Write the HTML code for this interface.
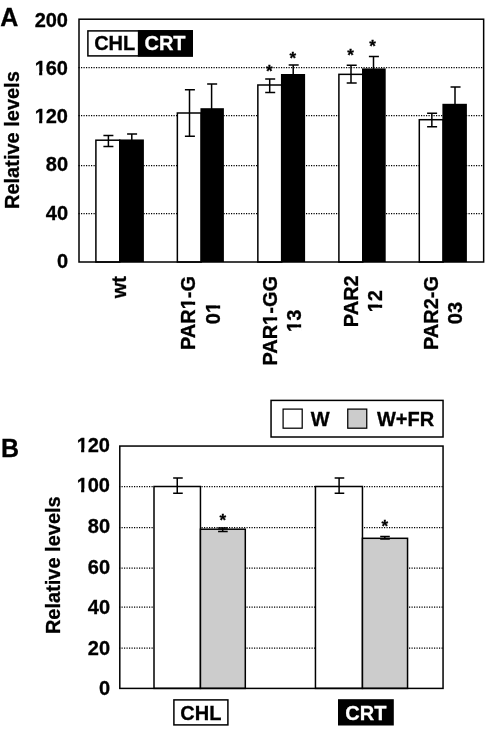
<!DOCTYPE html>
<html><head><meta charset="utf-8"><style>
html,body{margin:0;padding:0;background:#fff;width:490px;height:735px;overflow:hidden}
svg{display:block;filter:grayscale(1)}
text{font-family:"Liberation Sans",sans-serif;font-weight:bold;stroke:#000;stroke-width:0.3px}
text[fill="#fff"]{stroke:#fff}
</style></head><body>
<svg width="490" height="735" viewBox="0 0 490 735">
<rect width="490" height="735" fill="#fff"/>
<line x1="78.5" y1="213.50" x2="483.65" y2="213.50" stroke="#000" stroke-width="1.25" stroke-dasharray="1.2 1.3"/>
<line x1="78.5" y1="165.50" x2="483.65" y2="165.50" stroke="#000" stroke-width="1.25" stroke-dasharray="1.2 1.3"/>
<line x1="78.5" y1="115.50" x2="483.65" y2="115.50" stroke="#000" stroke-width="1.25" stroke-dasharray="1.2 1.3"/>
<line x1="78.5" y1="67.50" x2="483.65" y2="67.50" stroke="#000" stroke-width="1.25" stroke-dasharray="1.2 1.3"/>
<g transform="translate(68.00 267.96) scale(1 1.04)"><text id="t0" text-anchor="end" font-size="20">0</text></g>
<g transform="translate(68.00 220.16) scale(1 1.04)"><text id="t1" text-anchor="end" font-size="20">40</text></g>
<g transform="translate(68.00 171.26) scale(1 1.04)"><text id="t2" text-anchor="end" font-size="20">80</text></g>
<g transform="translate(68.00 123.36) scale(1 1.04)"><text id="t3" text-anchor="end" font-size="20">120</text><rect x="-33.10" y="-3.39" width="4.21" height="4.69" fill="#fff"/><rect x="-25.75" y="-3.39" width="3.95" height="4.69" fill="#fff"/></g>
<g transform="translate(68.00 74.56) scale(1 1.04)"><text id="t4" text-anchor="end" font-size="20">160</text><rect x="-33.10" y="-3.39" width="4.21" height="4.69" fill="#fff"/><rect x="-25.75" y="-3.39" width="3.95" height="4.69" fill="#fff"/></g>
<g transform="translate(68.00 27.06) scale(1 1.04)"><text id="t5" text-anchor="end" font-size="20">200</text></g>
<rect x="95.90" y="140.20" width="23.85" height="121.80" fill="#fff" stroke="#000" stroke-width="1.5"/>
<rect x="119.00" y="139.45" width="24.90" height="122.55" fill="#000"/>
<path d="M108.40 135.50V146.60M103.40 135.50H113.40M103.40 146.60H113.40" stroke="#000" stroke-width="1.5" fill="none"/>
<path d="M131.80 133.90V140.45M127.10 133.90H137.10" stroke="#000" stroke-width="1.5" fill="none"/>
<rect x="177.35" y="113.00" width="23.85" height="149.00" fill="#fff" stroke="#000" stroke-width="1.5"/>
<rect x="200.45" y="108.20" width="23.45" height="153.80" fill="#000"/>
<path d="M189.50 89.75V136.30M184.90 89.75H194.90M184.90 136.30H194.90" stroke="#000" stroke-width="1.5" fill="none"/>
<path d="M211.60 84.05V109.20M207.15 84.05H217.15" stroke="#000" stroke-width="1.5" fill="none"/>
<rect x="257.85" y="85.00" width="23.85" height="177.00" fill="#fff" stroke="#000" stroke-width="1.5"/>
<rect x="280.95" y="74.00" width="24.15" height="188.00" fill="#000"/>
<path d="M269.70 79.00V92.45M265.20 79.00H275.20M265.20 92.45H275.20" stroke="#000" stroke-width="1.5" fill="none"/>
<path d="M293.20 65.10V75.00M288.70 65.10H298.70" stroke="#000" stroke-width="1.5" fill="none"/>
<rect x="338.90" y="74.35" width="23.85" height="187.65" fill="#fff" stroke="#000" stroke-width="1.5"/>
<rect x="362.00" y="68.40" width="23.70" height="193.60" fill="#000"/>
<path d="M351.00 65.15V82.90M346.70 65.15H356.70M346.70 82.90H356.70" stroke="#000" stroke-width="1.5" fill="none"/>
<path d="M373.50 56.55V69.40M368.90 56.55H378.90" stroke="#000" stroke-width="1.5" fill="none"/>
<rect x="419.30" y="119.70" width="23.85" height="142.30" fill="#fff" stroke="#000" stroke-width="1.5"/>
<rect x="442.40" y="103.80" width="24.50" height="158.20" fill="#000"/>
<path d="M431.85 113.30V126.85M427.10 113.30H437.10M427.10 126.85H437.10" stroke="#000" stroke-width="1.5" fill="none"/>
<path d="M455.00 86.90V104.80M450.55 86.90H460.55" stroke="#000" stroke-width="1.5" fill="none"/>
<rect x="79.0" y="19.2" width="404.65" height="242.80" fill="none" stroke="#000" stroke-width="1.5"/>
<g transform="translate(269.30 77.44)"><text id="t6" text-anchor="middle" font-size="17">*</text></g>
<g transform="translate(292.70 63.64)"><text id="t7" text-anchor="middle" font-size="17">*</text></g>
<g transform="translate(350.50 61.39)"><text id="t8" text-anchor="middle" font-size="17">*</text></g>
<g transform="translate(372.65 52.39)"><text id="t9" text-anchor="middle" font-size="17">*</text></g>
<rect x="87.9" y="30.9" width="104.3" height="25" fill="#fff" stroke="#000" stroke-width="1.5"/>
<rect x="138.6" y="30.9" width="53.65" height="25" fill="#000" stroke="#000" stroke-width="1.5"/>
<g transform="translate(114.70 50.10) scale(1 1.04)"><text id="t10" text-anchor="middle" font-size="20">CHL</text></g>
<g transform="translate(165.00 50.10) scale(1 1.04)"><text id="t11" text-anchor="middle" font-size="20" fill="#fff">CRT</text></g>
<g transform="translate(0.30 26.00) scale(1 1.04)"><text id="t12" font-size="25">A</text></g>
<g transform="translate(18.70 140.10) rotate(-90) scale(1 1.04)"><text id="t13" text-anchor="middle" font-size="20">Relative levels</text></g>
<g transform="translate(126.10 287.11) rotate(-90) scale(1 1.04)"><text id="t14" text-anchor="middle" font-size="20">wt</text></g>
<g transform="translate(195.45 313.04) rotate(-90) scale(1 1.04)"><text id="t15" text-anchor="middle" font-size="20">PAR1-G</text><rect x="3.95" y="-3.39" width="4.21" height="4.69" fill="#fff"/><rect x="11.30" y="-3.39" width="3.95" height="4.69" fill="#fff"/></g>
<g transform="translate(219.75 313.04) rotate(-90) scale(1 1.04)"><text id="t16" text-anchor="middle" font-size="20">01</text><rect x="0.24" y="-3.39" width="4.21" height="4.69" fill="#fff"/><rect x="7.60" y="-3.39" width="3.95" height="4.69" fill="#fff"/></g>
<g transform="translate(276.80 320.82) rotate(-90) scale(1 1.04)"><text id="t17" text-anchor="middle" font-size="20">PAR1-GG</text><rect x="-3.82" y="-3.39" width="4.21" height="4.69" fill="#fff"/><rect x="3.53" y="-3.39" width="3.95" height="4.69" fill="#fff"/></g>
<g transform="translate(300.50 320.82) rotate(-90) scale(1 1.04)"><text id="t18" text-anchor="middle" font-size="20">13</text><rect x="-10.86" y="-3.39" width="4.21" height="4.69" fill="#fff"/><rect x="-3.51" y="-3.39" width="3.95" height="4.69" fill="#fff"/></g>
<g transform="translate(358.10 301.23) rotate(-90) scale(1 1.04)"><text id="t19" text-anchor="middle" font-size="20">PAR2</text></g>
<g transform="translate(381.60 301.23) rotate(-90) scale(1 1.04)"><text id="t20" text-anchor="middle" font-size="20">12</text><rect x="-10.86" y="-3.39" width="4.21" height="4.69" fill="#fff"/><rect x="-3.51" y="-3.39" width="3.95" height="4.69" fill="#fff"/></g>
<g transform="translate(438.20 313.04) rotate(-90) scale(1 1.04)"><text id="t21" text-anchor="middle" font-size="20">PAR2-G</text></g>
<g transform="translate(461.80 313.04) rotate(-90) scale(1 1.04)"><text id="t22" text-anchor="middle" font-size="20">03</text></g>
<line x1="119.0" y1="486.50" x2="443.05" y2="486.50" stroke="#000" stroke-width="1.25" stroke-dasharray="1.2 1.3"/>
<line x1="119.0" y1="527.50" x2="443.05" y2="527.50" stroke="#000" stroke-width="1.25" stroke-dasharray="1.2 1.3"/>
<line x1="119.0" y1="568.00" x2="443.05" y2="568.00" stroke="#000" stroke-width="1.25" stroke-dasharray="1.2 1.3"/>
<line x1="119.0" y1="607.00" x2="443.05" y2="607.00" stroke="#000" stroke-width="1.25" stroke-dasharray="1.2 1.3"/>
<line x1="119.0" y1="648.00" x2="443.05" y2="648.00" stroke="#000" stroke-width="1.25" stroke-dasharray="1.2 1.3"/>
<g transform="translate(110.00 452.06) scale(1 1.04)"><text id="t23" text-anchor="end" font-size="20">120</text><rect x="-33.10" y="-3.39" width="4.21" height="4.69" fill="#fff"/><rect x="-25.75" y="-3.39" width="3.95" height="4.69" fill="#fff"/></g>
<g transform="translate(110.00 492.16) scale(1 1.04)"><text id="t24" text-anchor="end" font-size="20">100</text><rect x="-33.10" y="-3.39" width="4.21" height="4.69" fill="#fff"/><rect x="-25.75" y="-3.39" width="3.95" height="4.69" fill="#fff"/></g>
<g transform="translate(110.00 533.46) scale(1 1.04)"><text id="t25" text-anchor="end" font-size="20">80</text></g>
<g transform="translate(110.00 574.26) scale(1 1.04)"><text id="t26" text-anchor="end" font-size="20">60</text></g>
<g transform="translate(110.00 614.36) scale(1 1.04)"><text id="t27" text-anchor="end" font-size="20">40</text></g>
<g transform="translate(110.00 654.66) scale(1 1.04)"><text id="t28" text-anchor="end" font-size="20">20</text></g>
<g transform="translate(110.00 694.86) scale(1 1.04)"><text id="t29" text-anchor="end" font-size="20">0</text></g>
<rect x="154.0" y="486.5" width="46.45" height="201.90" fill="#fff" stroke="#000" stroke-width="1.5"/>
<rect x="200.45" y="529.2" width="44.85" height="159.20" fill="#cccccc" stroke="#000" stroke-width="1.5"/>
<rect x="315.45" y="486.5" width="47.00" height="201.90" fill="#fff" stroke="#000" stroke-width="1.5"/>
<rect x="362.45" y="538.3" width="45.10" height="150.10" fill="#cccccc" stroke="#000" stroke-width="1.5"/>
<path d="M177.25 478.05V493.20M173.15 478.05H182.75M173.15 493.20H182.75" stroke="#000" stroke-width="1.5" fill="none"/>
<path d="M222.70 528.00V531.60M218.10 528.00H227.70M218.10 531.60H227.70" stroke="#000" stroke-width="1.5" fill="none"/>
<path d="M339.10 478.05V493.20M334.65 478.05H344.25M334.65 493.20H344.25" stroke="#000" stroke-width="1.5" fill="none"/>
<path d="M384.80 536.50V538.90M380.20 536.50H389.80M380.20 538.90H389.80" stroke="#000" stroke-width="1.5" fill="none"/>
<rect x="119.8" y="446.05" width="323.25" height="242.35" fill="none" stroke="#000" stroke-width="1.5"/>
<g transform="translate(222.75 525.99)"><text id="t30" text-anchor="middle" font-size="17">*</text></g>
<g transform="translate(384.85 532.34)"><text id="t31" text-anchor="middle" font-size="17">*</text></g>
<rect x="271.05" y="400.4" width="172.0" height="36.6" fill="#fff" stroke="#000" stroke-width="1.5"/>
<rect x="283.1" y="409.1" width="19.1" height="19.1" fill="#fff" stroke="#000" stroke-width="1.25"/>
<rect x="347.75" y="409.1" width="19.0" height="19.1" fill="#cccccc" stroke="#000" stroke-width="1.25"/>
<g transform="translate(310.80 425.80) scale(1 1.04)"><text id="t32" font-size="20">W</text></g>
<g transform="translate(377.00 425.80) scale(1 1.04)"><text id="t33" font-size="20">W+FR</text></g>
<g transform="translate(1.00 456.50) scale(1 1.04)"><text id="t34" font-size="25">B</text></g>
<g transform="translate(60.10 565.20) rotate(-90) scale(1 1.04)"><text id="t35" text-anchor="middle" font-size="20">Relative levels</text></g>
<rect x="173.9" y="699.9" width="54" height="25" fill="#fff" stroke="#000" stroke-width="1.5"/>
<g transform="translate(200.90 719.90) scale(1 1.04)"><text id="t36" text-anchor="middle" font-size="20">CHL</text></g>
<rect x="338" y="699.2" width="55.8" height="26.3" fill="#000"/>
<g transform="translate(365.90 719.90) scale(1 1.04)"><text id="t37" text-anchor="middle" font-size="20" fill="#fff">CRT</text></g>
</svg>
</body></html>
